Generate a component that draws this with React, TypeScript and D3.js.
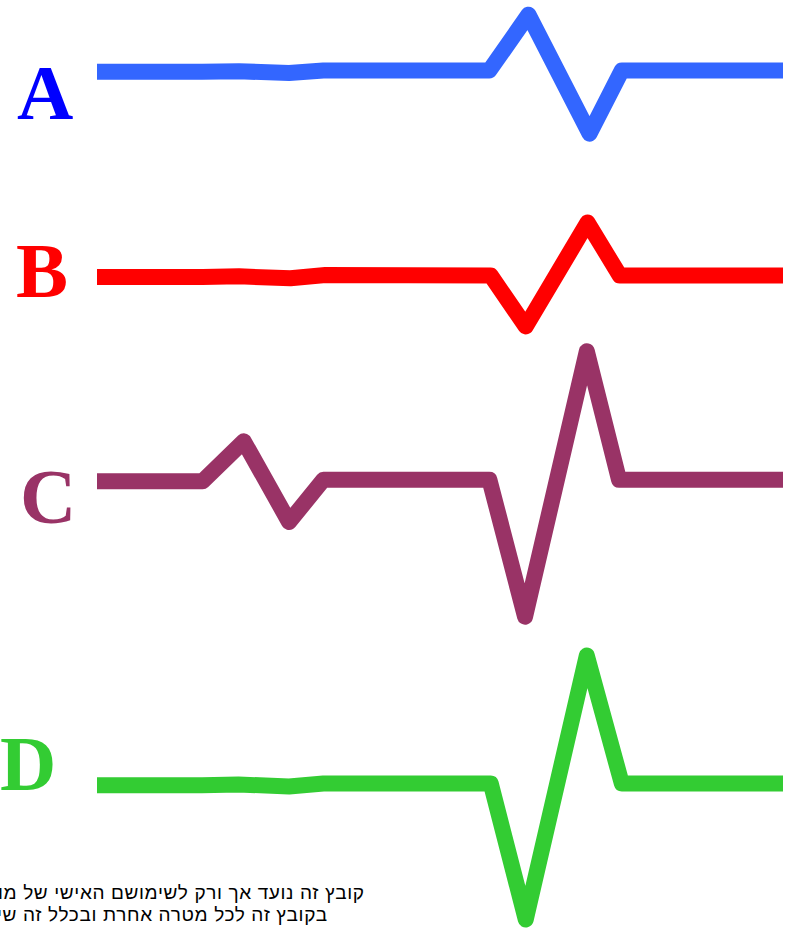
import React, { useEffect, useRef } from "react";
import * as d3 from "d3";

// lead names and colours
const leadNames = ["A", "B", "C", "D"];
const lineColors = ["#3366ff", "#ff0000", "#993366", "#33cc33"];
const labelColors = ["#0000ff", "#ff0000", "#993366", "#33cc33"];

// trace vertices: time (0..100) and amplitude (1 unit ~ 1 small square)
const aTimes = [0, 15.3, 20.7, 28, 33, 57.2, 62.9, 71.8, 76.5, 100];
const aValues = [-0.12, -0.12, -0.08, -0.25, 0, 0, 5.58, -6.32, 0, 0];
const bTimes = [0, 15.4, 20.7, 28.2, 33.3, 57.4, 62.5, 71.5, 76.2, 100];
const bValues = [-0.15, -0.15, -0.08, -0.28, 0.05, 0, -5.1, 5.3, 0, 0];
const cTimes = [0, 15.4, 21.4, 28, 33, 57.2, 62.4, 71.4, 76.1, 100];
const cValues = [-0.16, -0.16, 3.84, -4.23, 0, 0, -13.7, 12.84, 0, 0];
const dTimes = [0, 15.3, 20.6, 28, 33, 57.4, 62.5, 71.4, 76.5, 100];
const dValues = [-0.17, -0.17, -0.1, -0.3, 0, 0, -13.6, 12.8, 0, 0];

const noteLines = [
  "קובץ זה נועד אך ורק לשימושם האישי של מו",
  "בקובץ זה לכל מטרה אחרת ובכלל זה שי",
];

const W = 792, H = 929;
// layout of the rows
const rowBaselines = [70.5, 275.5, 479.7, 783.5];
const labelX = [17, 16, 20, 0];
const labelBaselines = [119, 297, 523, 790];

const App = () => {
  const svgRef = useRef(null);

  useEffect(() => {
    const svg = d3.select(svgRef.current);
    svg.selectAll("*").remove();

    const series = [
      { t: aTimes, v: aValues },
      { t: bTimes, v: bValues },
      { t: cTimes, v: cValues },
      { t: dTimes, v: dValues },
    ];

    const x = d3.scaleLinear().domain([0, 100]).range([97, 783]);

    series.forEach((s, i) => {
      const base = rowBaselines[i];
      const y = d3.scaleLinear().domain([-15, 15]).range([base + 150, base - 150]);
      const line = d3.line()
        .x((d) => x(d[0]))
        .y((d) => y(d[1]));

      svg.append("path")
        .datum(d3.zip(s.t, s.v))
        .attr("fill", "none")
        .attr("stroke", lineColors[i])
        .attr("stroke-width", 16)
        .attr("stroke-linejoin", "round")
        .attr("stroke-linecap", "butt")
        .attr("d", line);

      svg.append("text")
        .attr("x", labelX[i])
        .attr("y", labelBaselines[i])
        .attr("font-family", "'Liberation Serif', 'Times New Roman', serif")
        .attr("font-weight", "bold")
        .attr("font-size", 78)
        .attr("fill", labelColors[i])
        .text(leadNames[i]);
    });

    // footer note: runs off the left edge, right ends at 363 / 326
    const noteRight = [364, 327];
    const noteWidth = [366, 330];
    noteLines.forEach((txt, i) => {
      svg.append("text")
        .attr("x", noteRight[i] - noteWidth[i])
        .attr("y", 899 + i * 22)
        .attr("textLength", noteWidth[i])
        .attr("lengthAdjust", "spacing")
        .attr("font-family", "'Liberation Sans', Arial, sans-serif")
        .attr("font-size", 19)
        .attr("fill", "#000")
        .text(txt);
    });
  }, []);

  return (
    <svg
      ref={svgRef}
      width={W}
      height={H}
      style={{ position: "absolute", left: 0, top: 0, background: "#fff" }}
    />
  );
};

export default App;
